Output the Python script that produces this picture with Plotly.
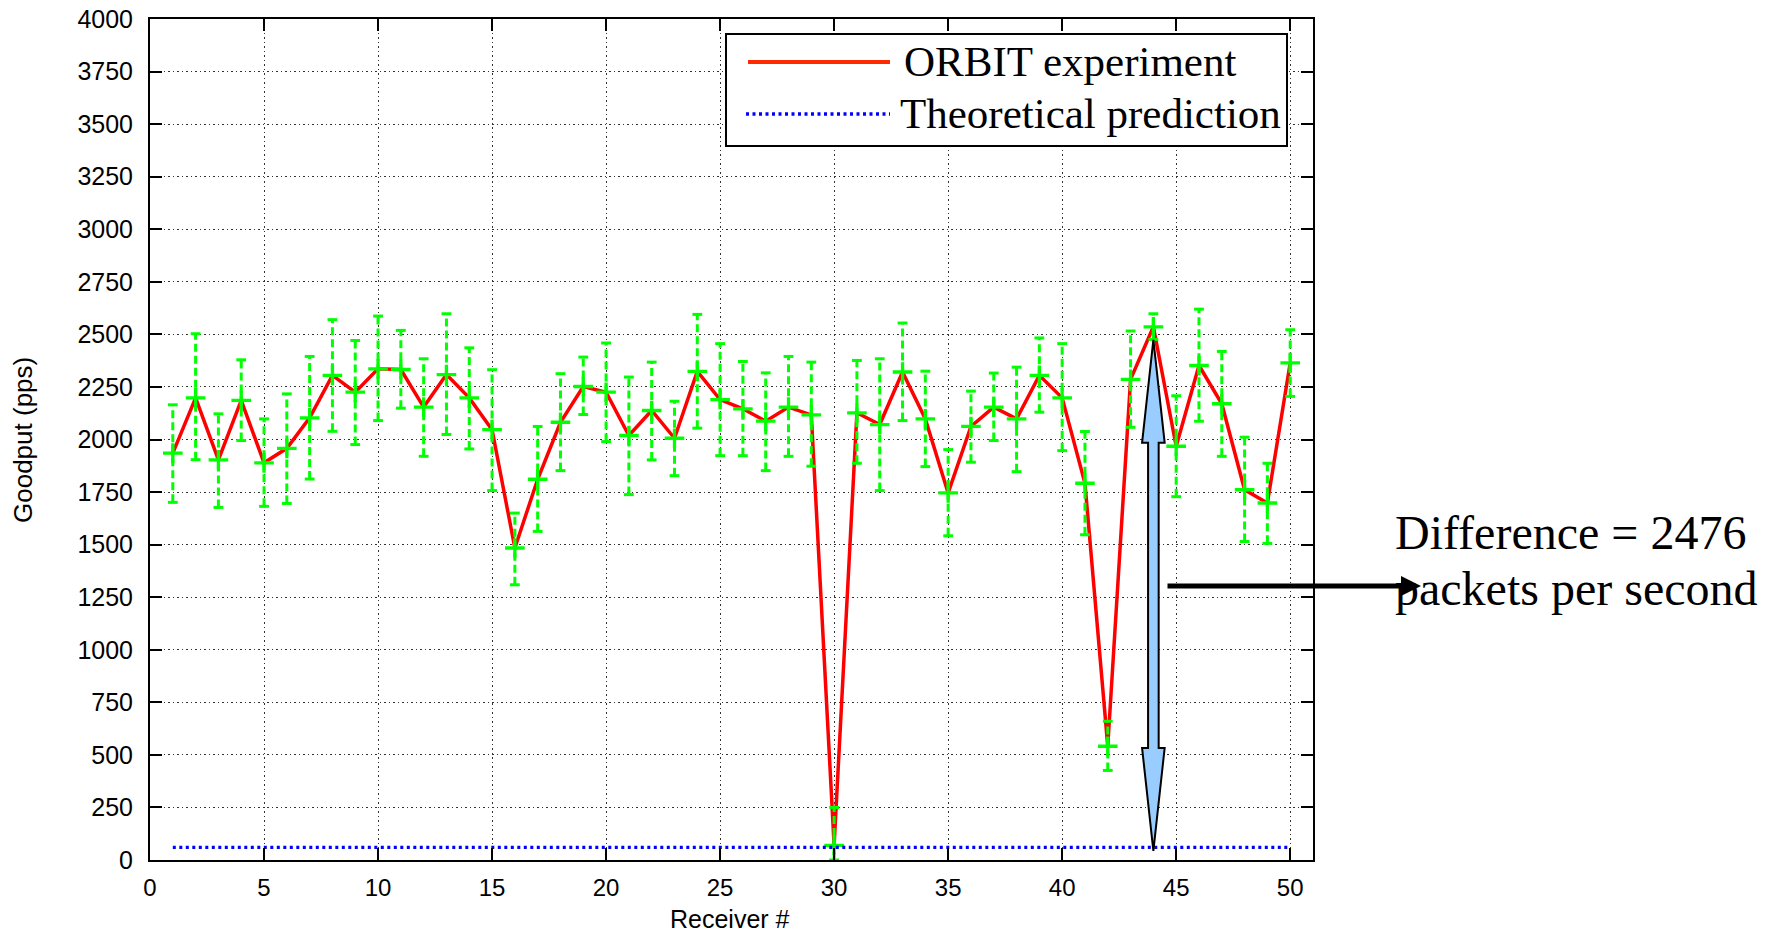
import plotly.graph_objects as go

# ---------------- data ----------------
receivers = list(range(1, 51))

orbit = [1935, 2198, 1903, 2186, 1889, 1958, 2103, 2305, 2225, 2336,
         2333, 2154, 2309, 2198, 2047, 1484, 1811, 2082, 2252, 2225,
         2019, 2138, 2006, 2324, 2190, 2146, 2087, 2154, 2117, 70,
         2127, 2071, 2321, 2098, 1746, 2062, 2154, 2098, 2305, 2198,
         1792, 541, 2286, 2536, 1968, 2352, 2170, 1761, 1698, 2364]

orbit_upper = [2165, 2503, 2122, 2379, 2098, 2217, 2395, 2570, 2471, 2587,
               2519, 2384, 2598, 2436, 2332, 1650, 2062, 2313, 2392, 2459,
               2297, 2368, 2182, 2595, 2456, 2371, 2317, 2395, 2368, 250,
               2376, 2384, 2554, 2325, 1952, 2230, 2316, 2344, 2483, 2456,
               2038, 660, 2516, 2598, 2208, 2620, 2419, 2011, 1887, 2522]

orbit_lower = [1701, 1904, 1677, 1995, 1682, 1696, 1812, 2039, 1976, 2090,
               2149, 1920, 2024, 1955, 1757, 1309, 1563, 1852, 2119, 1990,
               1738, 1903, 1828, 2054, 1923, 1923, 1852, 1920, 1873, 0,
               1887, 1757, 2090, 1871, 1542, 1892, 1995, 1847, 2130, 1947,
               1547, 426, 2058, 2476, 1728, 2087, 1920, 1515, 1506, 2205]

theory = [60, 60, 60, 60, 60, 60, 60, 60, 60, 60,
          60, 60, 60, 60, 60, 60, 60, 60, 60, 60,
          60, 60, 60, 60, 60, 60, 60, 60, 60, 60,
          60, 60, 60, 60, 60, 60, 60, 60, 60, 60,
          60, 60, 60, 60, 60, 60, 60, 60, 60, 60]

x_ticks = list(range(0, 51, 5))
y_ticks = list(range(0, 4001, 250))
series_names = ["ORBIT experiment", "Theoretical prediction"]
note_lines = ["Difference = 2476", "packets per second"]
x_title = "Receiver #"
y_title = "Goodput (pps)"
highlight_receiver = 44

# ---------------- layout geometry ----------------
W, H = 1771, 936
ML, MR, MT, MB = 150, 458, 19, 76
X_RANGE = [0, 51]
Y_RANGE = [0, 4000]
plot_w = W - ML - MR
plot_h = H - MT - MB
px_per_x = plot_w / (X_RANGE[1] - X_RANGE[0])
px_per_y = plot_h / (Y_RANGE[1] - Y_RANGE[0])

GREEN = "#00ff00"
RED = "#ff0000"
BLUE = "#0000ff"
SANS = "Liberation Sans, Arial, Helvetica, sans-serif"
SERIF = "Liberation Serif, Times New Roman, serif"

fig = go.Figure()

# red experiment line
fig.add_trace(go.Scatter(
    x=receivers, y=orbit, mode="lines",
    line=dict(color=RED, width=3.5), showlegend=False, cliponaxis=False))

# dashed green error bars (built from the data arrays)
ex, ey = [], []
for r, lo, hi in zip(receivers, orbit_lower, orbit_upper):
    ex += [r, r, None]
    ey += [lo, hi, None]
fig.add_trace(go.Scatter(
    x=ex, y=ey, mode="lines",
    line=dict(color=GREEN, width=3, dash="8px,4px"), showlegend=False,
    cliponaxis=False))
# caps
fig.add_trace(go.Scatter(
    x=receivers + receivers, y=orbit_lower + orbit_upper, mode="markers",
    marker=dict(symbol="line-ew", size=7, line=dict(color=GREEN, width=3)),
    showlegend=False, cliponaxis=False))
# plus markers at means
fig.add_trace(go.Scatter(
    x=receivers, y=orbit, mode="markers",
    marker=dict(symbol="cross-thin", size=14, line=dict(color=GREEN, width=3.3)),
    showlegend=False, cliponaxis=False))

# blue dotted theoretical prediction
fig.add_trace(go.Scatter(
    x=receivers, y=theory, mode="lines",
    line=dict(color=BLUE, width=3.3, dash="3px,3.5px"), showlegend=False))

# ---------------- double-headed block arrow at the highlighted receiver ----
i = receivers.index(highlight_receiver)
xc = receivers[i]
top = orbit[i] - 13 / px_per_y     # tip sits just below the peak marker
bot = theory[i] - 3.5 / px_per_y   # tip touches the prediction line
sw = 5.3 / px_per_x        # shaft half width
hw = 11.3 / px_per_x       # head half width
hl = 103 / px_per_y        # head length
path = (f"M {xc},{top} L {xc+hw},{top-hl} L {xc+sw},{top-hl} "
        f"L {xc+sw},{bot+hl} L {xc+hw},{bot+hl} L {xc},{bot} "
        f"L {xc-hw},{bot+hl} L {xc-sw},{bot+hl} L {xc-sw},{top-hl} "
        f"L {xc-hw},{top-hl} Z")
shapes = [dict(type="path", path=path, xref="x", yref="y",
               fillcolor="#99ccff", line=dict(color="black", width=2),
               layer="above")]

# ---------------- manual legend ----------------
def px2paper_x(px):
    return (px - ML) / plot_w

def px2paper_y(py):
    return (H - MB - py) / plot_h

shapes.append(dict(type="rect", xref="paper", yref="paper",
                   x0=px2paper_x(726), x1=px2paper_x(1287),
                   y0=px2paper_y(146), y1=px2paper_y(34),
                   line=dict(color="black", width=2), fillcolor="white",
                   layer="above"))
shapes.append(dict(type="line", xref="paper", yref="paper",
                   x0=px2paper_x(748), x1=px2paper_x(890),
                   y0=px2paper_y(62), y1=px2paper_y(62),
                   line=dict(color="#ff2a00", width=4), layer="above"))
shapes.append(dict(type="line", xref="paper", yref="paper",
                   x0=px2paper_x(746), x1=px2paper_x(890),
                   y0=px2paper_y(114), y1=px2paper_y(114),
                   line=dict(color=BLUE, width=3.3, dash="3px,3.5px"),
                   layer="above"))

serif = dict(family=SERIF, size=43, color="black")
annotations = [
    dict(text=series_names[0], xref="paper", yref="paper",
         x=px2paper_x(902), y=px2paper_y(62), xanchor="left",
         yanchor="middle", showarrow=False, font=serif),
    dict(text=series_names[1], xref="paper", yref="paper",
         x=px2paper_x(898), y=px2paper_y(113), xanchor="left",
         yanchor="middle", showarrow=False, font=serif),
]

# ---------------- side note with black arrow ----------------
note_font = dict(family=SERIF, size=48, color="black")
annotations += [
    dict(text=note_lines[0], xref="paper", yref="paper",
         x=px2paper_x(1393), y=px2paper_y(532), xanchor="left",
         yanchor="middle", showarrow=False, font=note_font),
    dict(text=note_lines[1], xref="paper", yref="paper",
         x=px2paper_x(1393), y=px2paper_y(588), xanchor="left",
         yanchor="middle", showarrow=False, font=note_font),
    dict(text="", xref="paper", yref="paper",
         x=px2paper_x(1421), y=px2paper_y(586),
         ax=-255, ay=0, axref="pixel", ayref="pixel",
         showarrow=True, arrowhead=2, arrowsize=0.8, arrowwidth=5,
         arrowcolor="black", standoff=0),
]

# ---------------- axis titles ----------------
annotations += [
    dict(text=x_title, xref="paper", yref="paper",
         x=px2paper_x(730), y=px2paper_y(919), xanchor="center",
         yanchor="middle", showarrow=False,
         font=dict(family=SANS, size=25, color="black")),
    dict(text=y_title, xref="paper", yref="paper",
         x=px2paper_x(23), y=px2paper_y(440), xanchor="center",
         yanchor="middle", showarrow=False, textangle=-90,
         font=dict(family=SANS, size=26, color="black")),
]

axis_common = dict(
    showline=True, linecolor="black", linewidth=2, mirror="ticks",
    ticks="inside", ticklen=12, tickwidth=2, tickcolor="black",
    showgrid=True, gridcolor="#333333", gridwidth=1, griddash="1.5px,3px",
    zeroline=False, automargin=False,
)

fig.update_layout(
    width=W, height=H,
    margin=dict(l=ML, r=MR, t=MT, b=MB, pad=0, autoexpand=False),
    paper_bgcolor="white", plot_bgcolor="white",
    showlegend=False,
    xaxis=dict(range=X_RANGE, tickvals=x_ticks, ticktext=[str(v) for v in x_ticks],
               tickfont=dict(family=SANS, size=24, color="black"),
               ticklabelstandoff=5,
               **axis_common),
    yaxis=dict(range=Y_RANGE, tickvals=y_ticks, ticktext=[str(v) for v in y_ticks],
               tickfont=dict(family=SANS, size=25, color="black"),
               ticklabelstandoff=10,
               **axis_common),
    shapes=shapes,
    annotations=annotations,
)

fig.write_html("out.html")
